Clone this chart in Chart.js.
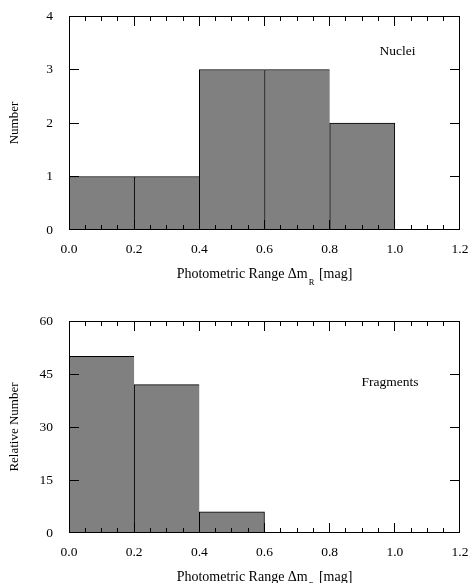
<!DOCTYPE html>
<html>
<head>
<meta charset="utf-8">
<script src="https://cdn.jsdelivr.net/npm/chart.js@4.4.0/dist/chart.umd.min.js"></script>
<style>
  html, body { margin: 0; padding: 0; background: #fff; }
  #wrap { position: relative; width: 469px; height: 583px; overflow: hidden; }
  canvas { position: absolute; left: 0; }
  #pre { position: absolute; left: -1000px; top: 0; font-family: "Liberation Serif"; font-size: 13px; }
</style>
</head>
<body>
<div id="pre">Photometric 0.0 Δ</div>
<div id="wrap">
  <canvas id="top" width="469" height="300" style="top:0"></canvas>
  <canvas id="bottom" width="469" height="283" style="top:300px"></canvas>
</div>
<script>
// ---- data ----
const binLabels = ['0.0-0.2', '0.2-0.4', '0.4-0.6', '0.6-0.8', '0.8-1.0', '1.0-1.2'];
const nucleiCounts = [1, 1, 3, 3, 2, 0];
const fragmentRelative = [50, 42, 6, 0, 0, 0];
const xTickValues = [0.0, 0.2, 0.4, 0.6, 0.8, 1.0, 1.2];
const xMinorStep = 0.05;
const nucleiYTicks = [0, 1, 2, 3, 4];
const fragmentYTicks = [0, 15, 30, 45, 60];
const xTitleMain = 'Photometric Range \u0394m';
const xTitleSub = 'R';
const xTitleEnd = ' [mag]';

const FONT = '"Liberation Serif", "Times New Roman", serif';

const framePlugin = {
  id: 'frameTicks',
  afterDraw(chart, args, opts) {
    const { ctx, chartArea: a } = chart;
    const xs = chart.scales.x, ys = chart.scales.y;
    const clampX = (p) => Math.min(Math.max(p, a.left + 0.5), a.right - 0.5);
    const clampY = (p) => Math.min(Math.max(p, a.top + 0.5), a.bottom - 0.5);
    ctx.save();
    ctx.strokeStyle = '#000';
    ctx.lineWidth = 1;
    ctx.strokeRect(a.left + 0.5, a.top + 0.5, a.right - a.left - 1, a.bottom - a.top - 1);
    ctx.beginPath();
    const n = Math.round((xs.max - xs.min) / xMinorStep);
    for (let i = 0; i <= n; i++) {
      const v = xs.min + i * xMinorStep;
      const major = i % 4 === 0;
      const len = major ? 10 : 5;
      const px = clampX(Math.round(xs.getPixelForValue(v) - 0.5) + 0.5);
      ctx.moveTo(px, a.bottom);
      ctx.lineTo(px, a.bottom - len);
      ctx.moveTo(px, a.top);
      ctx.lineTo(px, a.top + len);
    }
    for (const t of opts.yTicks) {
      const py = clampY(Math.round(ys.getPixelForValue(t) - 0.5) + 0.5);
      ctx.moveTo(a.left, py);
      ctx.lineTo(a.left + 10, py);
      ctx.moveTo(a.right, py);
      ctx.lineTo(a.right - 10, py);
    }
    ctx.stroke();
    ctx.fillStyle = '#000';
    ctx.textBaseline = 'alphabetic';
    const mainFont = '14px ' + FONT;
    const subFont = '8.5px ' + FONT;
    ctx.font = mainFont;
    const w1 = ctx.measureText(xTitleMain).width;
    const w3 = ctx.measureText(xTitleEnd).width;
    ctx.font = subFont;
    const w2 = ctx.measureText(xTitleSub).width + 2;
    const total = w1 + w2 + w3;
    const cx = (a.left + a.right) / 2;
    const base = a.bottom + 47.5;
    const x0 = cx - total / 2;
    ctx.font = mainFont;
    ctx.textAlign = 'left';
    ctx.fillText(xTitleMain, x0, base);
    ctx.font = subFont;
    ctx.fillText(xTitleSub, x0 + w1 + 1, base + 7.5);
    ctx.font = mainFont;
    ctx.fillText(xTitleEnd, x0 + w1 + w2, base);
    ctx.font = '13.5px ' + FONT;
    ctx.textAlign = 'center';
    ctx.fillText(opts.label, opts.labelX, a.top + opts.labelDY);
    ctx.restore();
  }
};

function makeChart(id, values, yMax, yTicks, yTitle, padTop, canvasH, label, labelX, labelDY) {
  const lastNonZero = values.reduce((acc, v, i) => (v > 0 ? i : acc), -1);
  const bottomEdge = canvasH === 300 ? 230 : 233;
  return new Chart(document.getElementById(id), {
    type: 'bar',
    data: {
      labels: binLabels,
      datasets: [{
        data: values,
        backgroundColor: '#808080',
        borderColor: '#000',
        borderSkipped: false,
        borderWidth: (c) => ({ top: 1, left: 1, bottom: 0, right: c.dataIndex === lastNonZero ? 1 : 0 }),
        barPercentage: 1,
        categoryPercentage: 1,
        xAxisID: 'xc',
        yAxisID: 'y'
      }]
    },
    options: {
      responsive: false,
      animation: false,
      devicePixelRatio: 1,
      layout: { padding: { left: 0, right: 9, top: padTop, bottom: 0 } },
      plugins: {
        legend: { display: false },
        tooltip: { enabled: false },
        frameTicks: { yTicks: yTicks, label: label, labelX: labelX, labelDY: labelDY }
      },
      scales: {
        xc: { type: 'category', display: false, offset: true },
        x: {
          type: 'linear', position: 'bottom', min: 0, max: 1.2, offset: false,
          afterBuildTicks: (s) => { s.ticks = xTickValues.map(v => ({ value: v })); },
          afterFit: (s) => {
            s.height = canvasH - bottomEdge;
            s.paddingLeft = 0; s.paddingRight = 0;
          },
          grid: { display: false, drawTicks: false, offset: false },
          border: { display: false },
          ticks: {
            autoSkip: false, maxRotation: 0, padding: 11, color: '#000',
            font: { family: FONT, size: 13.5 },
            callback: (v) => Number(v).toFixed(1)
          }
        },
        y: {
          type: 'linear', position: 'left', min: 0, max: yMax,
          afterBuildTicks: (s) => { s.ticks = yTicks.map(v => ({ value: v })); },
          afterFit: (s) => { s.width = 69; s.paddingTop = 0; s.paddingBottom = 0; },
          grid: { display: false, drawTicks: false },
          border: { display: false },
          ticks: {
            padding: 16, color: '#000',
            font: { family: FONT, size: 13.5 }
          },
          title: {
            display: true, text: yTitle, color: '#000',
            font: { family: FONT, size: 13 },
            padding: { top: 7, bottom: 0 }
          }
        }
      }
    },
    plugins: [framePlugin]
  });
}

function build() {
  makeChart('top', nucleiCounts, 4, nucleiYTicks, 'Number', 16, 300, 'Nuclei', 397.5, 39);
  makeChart('bottom', fragmentRelative, 60, fragmentYTicks, 'Relative Number', 21, 283, 'Fragments', 390, 65);
}
const loads = document.fonts ? Promise.all([
  document.fonts.load('13px "Liberation Serif"'),
  document.fonts.load('13.5px "Liberation Serif"'),
  document.fonts.load('14px "Liberation Serif"')
]) : Promise.resolve();
loads.then(build, build);
</script>
</body>
</html>
